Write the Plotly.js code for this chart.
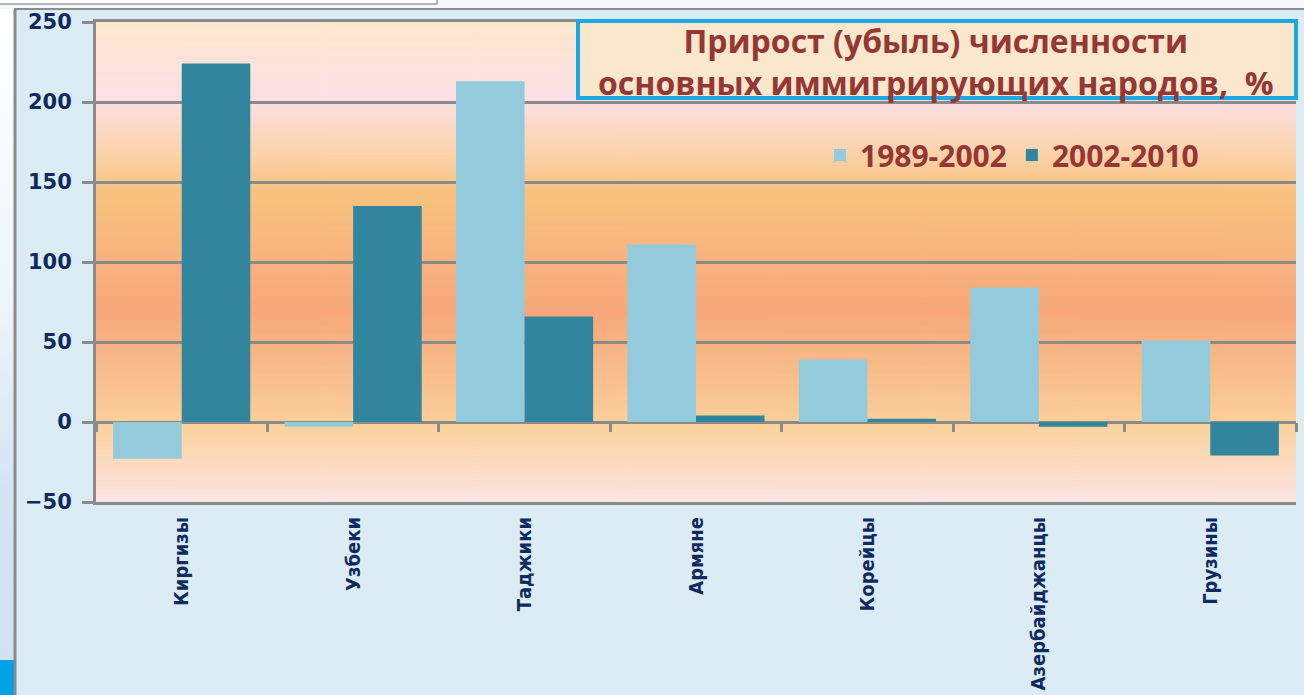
<!DOCTYPE html>
<html>
<head>
<meta charset="utf-8">
<script src="https://cdn.plot.ly/plotly-3.0.1.min.js"></script>
<style>
html,body{margin:0;padding:0;background:#ffffff;}
#chart{width:1304px;height:695px;}
</style>
</head>
<body>
<div id="chart"></div>
<script>
// ---- data ----
const categories = ["Киргизы","Узбеки","Таджики","Армяне","Корейцы","Азербайджанцы","Грузины"];
const seriesNames = ["1989-2002","2002-2010"];
const values1989_2002 = [-23, -3, 213, 111, 39, 84, 51];
const values2002_2010 = [224, 135, 66, 4, 2, -3, -21];
const yTickValues = [-50, 0, 50, 100, 150, 200, 250];
const titleLines = ["Прирост (убыль) численности", "основных иммигрирующих народов,  %"];

// ---- layout helpers (pixel -> paper) ----
const W = 1304, H = 695;
const L = 96, R = 8, T = 22, B = 193;
const PW = W - L - R, PH = H - T - B;
const px = p => (p - L) / PW;
const py = p => (H - B - p) / PH;

// plot-area gradient background drawn into a canvas image
function gradientImage(){
  const c = document.createElement('canvas');
  c.width = 8; c.height = 480;
  const g = c.getContext('2d');
  const lg = g.createLinearGradient(0,0,0,480);
  lg.addColorStop(0.00,'#fbe7cc');
  lg.addColorStop(0.16,'#fde0e6');
  lg.addColorStop(0.27,'#fbd3ac');
  lg.addColorStop(0.36,'#f8c27c');
  lg.addColorStop(0.50,'#f8b27e');
  lg.addColorStop(0.60,'#f7a779');
  lg.addColorStop(0.75,'#f9c08e');
  lg.addColorStop(0.84,'#fbd19c');
  lg.addColorStop(1.00,'#fde4e4');
  g.fillStyle = lg; g.fillRect(0,0,8,480);
  return c.toDataURL('image/png');
}
function sideImage(){
  const c = document.createElement('canvas');
  c.width = 14; c.height = 695;
  const g = c.getContext('2d');
  const lg = g.createLinearGradient(0,0,0,695);
  lg.addColorStop(0,'#ffffff');
  lg.addColorStop(0.4,'#f1f6fb');
  lg.addColorStop(0.7,'#d6e4f2');
  lg.addColorStop(0.94,'#d2e1f0');
  g.fillStyle = lg; g.fillRect(0,0,14,695);
  g.fillStyle = '#00a3e3'; g.fillRect(0,660,14,35);
  return c.toDataURL('image/png');
}

const gridGray = '#8a8a8a';
const navy = '#0f2a5e';
const darkRed = '#953735';

const traces = [
  {type:'bar', name:seriesNames[0], x:categories, y:values1989_2002,
   marker:{color:'#93cbdc'}, hoverinfo:'x+y+name'},
  {type:'bar', name:seriesNames[1], x:categories, y:values2002_2010,
   marker:{color:'#31859c'}, hoverinfo:'x+y+name'},
  {type:'scatter', mode:'markers', x:categories, y:categories.map(()=>null),
   xaxis:'x2', showlegend:false, hoverinfo:'skip', marker:{opacity:0}}
];

const layout = {
  width: W, height: H,
  margin:{l:L, r:R, t:T, b:B, pad:0},
  paper_bgcolor:'#dbecf4',
  plot_bgcolor:'rgba(0,0,0,0)',
  barmode:'group', bargap:0.2, bargroupgap:0,
  showlegend:true,
  legend:{orientation:'h', x:px(820), y:py(155), xanchor:'left', yanchor:'middle',
          bgcolor:'rgba(0,0,0,0)', font:{family:'Open Sans, sans-serif', size:30, color:darkRed, weight:'bold'},
          itemwidth:30, tracegroupgap:0},
  xaxis:{type:'category', categoryarray:categories, range:[-0.5, categories.length-0.5],
         showgrid:false, zeroline:false, showline:true, mirror:true,
         linecolor:gridGray, linewidth:3, ticks:'', tickangle:-90,
         ticklabelstandoff:4,
         tickfont:{family:'DejaVu Sans Condensed, Liberation Sans Narrow, sans-serif', size:20, color:navy, weight:'bold'}},
  xaxis2:{type:'category', categoryarray:categories, range:[-0.5, categories.length-0.5],
          overlaying:'x', anchor:'free', position:(0 - (-50))/(250 - (-50)),
          showgrid:false, zeroline:false, showline:false, showticklabels:false,
          ticks:'outside', tickson:'boundaries', ticklen:9, tickwidth:3, tickcolor:gridGray},
  yaxis:{range:[-50,250], tickvals:yTickValues, showgrid:true, gridcolor:gridGray, gridwidth:3,
         zeroline:true, zerolinecolor:gridGray, zerolinewidth:3,
         showline:true, linecolor:gridGray, linewidth:3,
         ticks:'outside', ticklen:11, tickwidth:3, tickcolor:gridGray,
         ticklabelstandoff:6,
         tickfont:{family:'DejaVu Sans, Verdana, sans-serif', size:21, color:navy, weight:'bold'}},
  images:[
    {source:gradientImage(), xref:'paper', yref:'paper', x:0, y:1, sizex:1, sizey:1,
     xanchor:'left', yanchor:'top', sizing:'stretch', layer:'below'},
    {source:sideImage(), xref:'paper', yref:'paper', x:px(0), y:py(0), sizex:px(14)-px(0), sizey:py(0)-py(695),
     xanchor:'left', yanchor:'top', sizing:'stretch', layer:'below'}
  ],
  shapes:[
    {type:'rect', xref:'paper', yref:'paper', x0:px(0), x1:px(1304), y0:py(9), y1:py(0),
     fillcolor:'#f6f9fc', line:{width:0}, layer:'below'},
    {type:'rect', xref:'paper', yref:'paper', x0:px(-2), x1:px(437), y0:py(4), y1:py(-3),
     fillcolor:'#ffffff', line:{color:'#9a9a9a', width:1.5}, layer:'below'},
    {type:'line', xref:'paper', yref:'paper', x0:px(15), x1:px(15), y0:py(9), y1:py(700),
     line:{color:'#8c8c8c', width:3}},
    {type:'line', xref:'paper', yref:'paper', x0:px(14), x1:px(1310), y0:py(9), y1:py(9),
     line:{color:'#8c8c8c', width:2}},
    // title box
    {type:'rect', xref:'paper', yref:'paper', x0:px(578), x1:px(1296), y0:py(98), y1:py(21),
     fillcolor:'#fbe7cc', line:{color:'#1aa9e3', width:4}, layer:'above'}
  ],
  annotations:[
    {xref:'paper', yref:'paper', x:px(936), y:py(61), xanchor:'center', yanchor:'middle',
     text:titleLines.join('<br>'), showarrow:false, align:'center',
     font:{family:'Open Sans, sans-serif', size:32, color:darkRed, weight:'bold'}}
  ]
};

Plotly.newPlot('chart', traces, layout, {displayModeBar:false, staticPlot:true});
</script>
</body>
</html>
